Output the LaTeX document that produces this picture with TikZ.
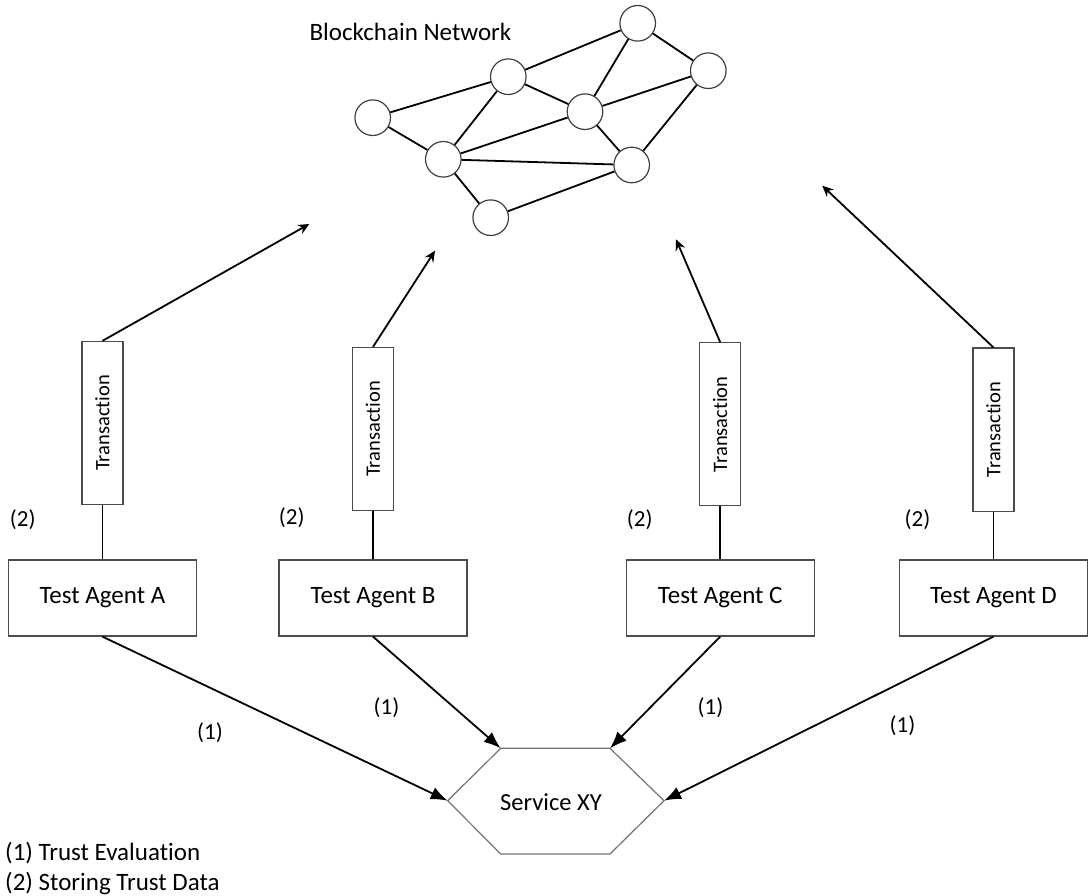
\documentclass[tikz,border=0pt]{standalone}
\usepackage{fontspec}
\setmainfont{Carlito}[Ligatures=NoCommon]
\usepackage{graphicx}
\usetikzlibrary{positioning,arrows.meta}
\tikzset{
  peer/.style={circle,draw=black!75,line width=1.2pt,fill=white,minimum size=35.6pt,inner sep=0pt},
  agent/.style={rectangle,draw=black!70,line width=1.2pt,minimum width=188pt,minimum height=76pt,font=\fontsize{25}{29}\selectfont},
  txbox/.style={rectangle,draw=black!70,line width=1.2pt,minimum width=41pt,minimum height=163pt,inner sep=0pt,font=\fontsize{20.5}{24}\selectfont},
  lbl/.style={font=\fontsize{25}{29}\selectfont,inner sep=0pt},
  steplbl/.style={font=\fontsize{23}{27}\selectfont,inner sep=0pt},
  peerlink/.style={line width=1.8pt},
  sendarrow/.style={line width=1.8pt,-{Stealth[length=11pt,width=10pt]}},
  evalarrow/.style={line width=1.8pt,-{Latex[length=17pt,width=13pt]}},
  hexline/.style={draw=black!55,line width=1.2pt}
}
\begin{document}
\begin{tikzpicture}[x=1pt,y=-1pt]
  \useasboundingbox (0,0) rectangle (1088,896);
  % blockchain network
  \node[lbl] (bcn) at (410.4,31.7) {Blockchain Network};
  \node[peer] (p1) at (637.7,23.3) {};
  \node[peer] (p2) at (708.3,70.7) {};
  \node[peer] (p3) at (508.3,76.7) {};
  \node[peer] (p4) at (585,111.7) {};
  \node[peer] (p5) at (372.7,117.7) {};
  \node[peer] (p6) at (443.3,159.3) {};
  \node[peer] (p7) at (631.7,165) {};
  \node[peer] (p8) at (490.7,217.7) {};
  \draw[peerlink] (p3) -- (p1) (p1) -- (p2) (p1) -- (p4) (p2) -- (p4) (p2) -- (p7)
    (p5) -- (p3) (p3) -- (p4) (p3) -- (p6) (p5) -- (p6) (p6) -- (p4)
    (p4) -- (p7) (p6) -- (p7) (p6) -- (p8) (p8) -- (p7);
  % test agents
  \node[agent] (agA) at (102.4,598) {Test Agent A};
  \node[agent] (agB) at (373,598) {Test Agent B};
  \node[agent] (agC) at (720.2,598) {Test Agent C};
  \node[agent] (agD) at (993.5,598) {Test Agent D};
  \node[txbox,above=54.3pt of agA] (txA) {\rotatebox{90}{Transaction}};
  \node[txbox,above=48.3pt of agB] (txB) {\rotatebox{90}{Transaction}};
  \node[txbox,above=53pt of agC] (txC) {\rotatebox{90}{Transaction}};
  \node[txbox,above=47.7pt of agD] (txD) {\rotatebox{90}{Transaction}};
  \draw[peerlink] (txA.south) -- (agA.north);
  \draw[peerlink] (txB.south) -- (agB.north);
  \draw[peerlink] (txC.south) -- (agC.north);
  \draw[peerlink] (txD.south) -- (agD.north);
  \node[steplbl] (twoA) at (22.7,520) {(2)};
  \node[steplbl] (twoB) at (291.7,518) {(2)};
  \node[steplbl] (twoC) at (639.7,520) {(2)};
  \node[steplbl] (twoD) at (917.5,520) {(2)};
  % transactions into the network
  \coordinate (tipA) at (309.3,224);
  \coordinate (tipB) at (435,250.7);
  \coordinate (tipC) at (676,239.3);
  \coordinate (tipD) at (822.3,185.7);
  \draw[sendarrow] (txA.north) -- (tipA);
  \draw[sendarrow] (txB.north) -- (tipB);
  \draw[sendarrow] (txC.north) -- (tipC);
  \draw[sendarrow] (txD.north) -- (tipD);
  % service
  \node[lbl,font=\fontsize{24.5}{28}\selectfont] (svc) at (551,801.7) {Service XY};
  \draw[hexline] (447.7,800.7) coordinate (hxW) -- (500.7,748.3) coordinate (hxNW)
    -- (610,748.3) coordinate (hxNE) -- (664,800.7) coordinate (hxE)
    -- (610,854) -- (500.7,854) -- cycle;
  \draw[evalarrow] (agA.south) -- (hxW);
  \draw[evalarrow] (agB.south) -- (hxNW);
  \draw[evalarrow] (agC.south) -- (hxNE);
  \draw[evalarrow] (agD.south) -- (hxE);
  \node[steplbl] (oneA) at (210,732.7) {(1)};
  \node[steplbl] (oneB) at (386.5,708) {(1)};
  \node[steplbl] (oneC) at (710.5,708) {(1)};
  \node[steplbl] (oneD) at (902.5,726) {(1)};
  % legend
  \node[lbl,anchor=west] (legOne) at (5,853) {(1) Trust Evaluation};
  \node[lbl,anchor=west] (legTwo) at (5,884) {(2) Storing Trust Data};
\end{tikzpicture}
\end{document}
